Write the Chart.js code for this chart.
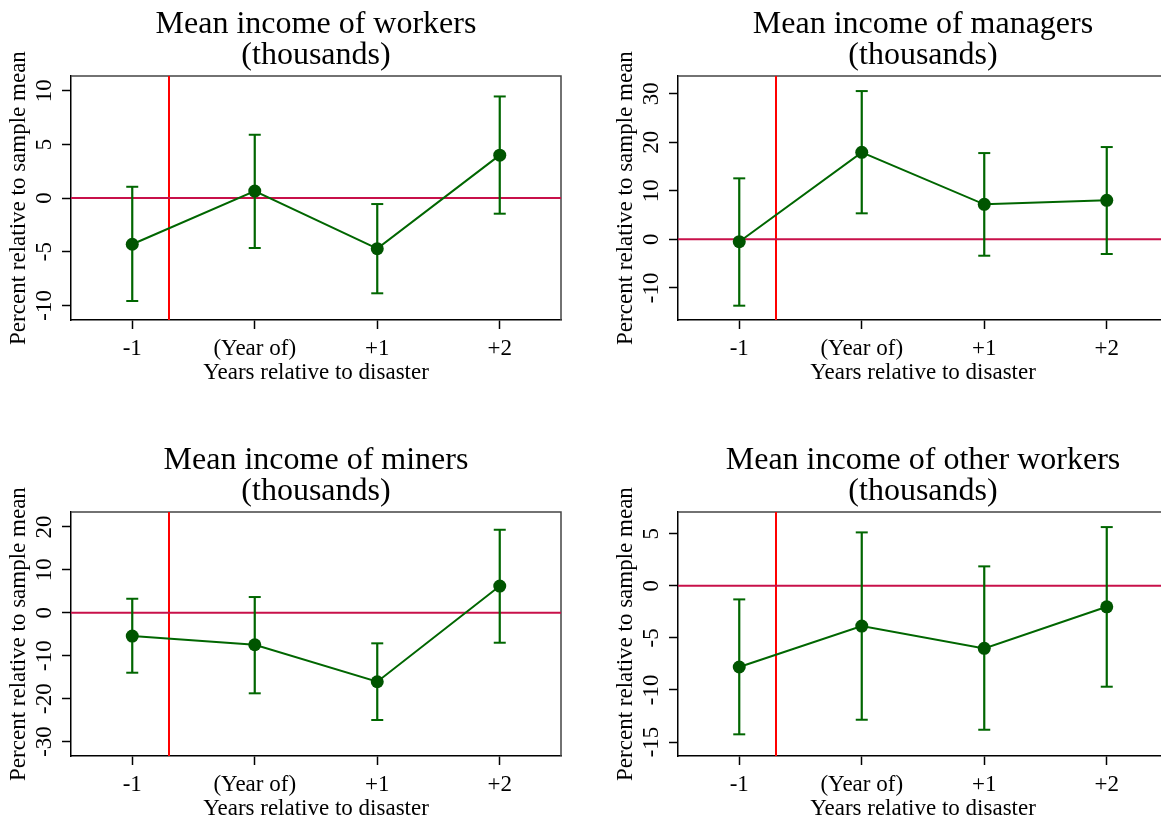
<!DOCTYPE html>
<html>
<head>
<meta charset="utf-8">
<script src="https://cdn.jsdelivr.net/npm/chart.js@4"></script>
<style>
  html, body { margin: 0; padding: 0; background: #fff; }
  #page { position: relative; width: 1161px; height: 822px; overflow: hidden; }
  #page canvas { position: absolute; }
</style>
</head>
<body>
<div id="page">
  <canvas id="c1" width="580" height="400" style="left:0;top:0"></canvas>
  <canvas id="c2" width="580" height="400" style="left:607px;top:0"></canvas>
  <canvas id="c3" width="580" height="400" style="left:0;top:436px"></canvas>
  <canvas id="c4" width="580" height="400" style="left:607px;top:436px"></canvas>
</div>
<script>
// categories on the x axis (positions 0..3), disaster marker between -1 and year of
const xLabels = ['-1', '(Year of)', '+1', '+2'];
const xPos = [0, 1, 2, 3];
const eventLine = 0.3;
const yTitle = 'Percent relative to sample mean';
const xTitle = 'Years relative to disaster';

// workers
const workersMean = [-4.31, 0.65, -4.72, 4.0];
const workersLow = [-9.6, -4.66, -8.88, -1.46];
const workersHigh = [1.05, 5.9, -0.56, 9.47];
const workersTicks = [-10, -5, 0, 5, 10];
const workersRange = [-11.37, 11.37];

// managers
const managersMean = [-0.49, 17.93, 7.21, 8.04];
const managersLow = [-13.68, 5.36, -3.38, -3.03];
const managersHigh = [12.57, 30.56, 17.78, 19.02];
const managersTicks = [-10, 0, 10, 20, 30];
const managersRange = [-16.63, 33.65];

// miners
const minersMean = [-5.43, -7.46, -16.08, 6.22];
const minersLow = [-13.98, -18.78, -25.0, -6.99];
const minersHigh = [3.26, 3.66, -7.13, 19.34];
const minersTicks = [-30, -20, -10, 0, 10, 20];
const minersRange = [-33.39, 23.46];

// other workers
const otherMean = [-7.8, -3.87, -6.01, -2.02];
const otherLow = [-14.26, -12.86, -13.82, -9.69];
const otherHigh = [-1.31, 5.12, 1.86, 5.63];
const otherTicks = [-15, -10, -5, 0, 5];
const otherRange = [-16.34, 7.07];

const FONT = 'Liberation Serif';
const GREEN = '#006600';
const DOT = '#005500';

// top and right edges of the plot region
const frame = {
  id: 'frame',
  beforeDatasetsDraw(chart) {
    const a = chart.chartArea, ctx = chart.ctx;
    ctx.save();
    ctx.strokeStyle = '#444';
    ctx.lineWidth = 1.5;
    ctx.beginPath();
    ctx.moveTo(a.left, a.top);
    ctx.lineTo(a.right, a.top);
    ctx.lineTo(a.right, a.bottom);
    ctx.stroke();
    ctx.restore();
  }
};

function makePanel(id, title, mean, low, high, yTicks, yRange) {
  const bars = [];
  xPos.forEach((x, i) => {
    bars.push({ x: x, y: low[i] }, { x: x, y: high[i] }, { x: x, y: null });
  });
  return new Chart(document.getElementById(id), {
    type: 'line',
    data: {
      datasets: [
        {
          data: xPos.map((x, i) => ({ x: x, y: mean[i] })),
          borderColor: GREEN, borderWidth: 2,
          pointRadius: 6.5, pointBackgroundColor: DOT, pointBorderWidth: 0,
          order: 1
        },
        {
          data: bars, spanGaps: false,
          borderColor: GREEN, borderWidth: 2.2,
          pointStyle: 'line', pointRadius: 6, pointBorderColor: GREEN, pointBorderWidth: 2,
          order: 2
        },
        {
          data: [{ x: -0.5, y: 0 }, { x: 3.5, y: 0 }],
          borderColor: '#c8104a', borderWidth: 2, pointRadius: 0,
          order: 3
        },
        {
          data: [{ x: eventLine, y: yRange[0] }, { x: eventLine, y: yRange[1] }],
          borderColor: '#ff0000', borderWidth: 2, pointRadius: 0,
          order: 4
        }
      ]
    },
    options: {
      responsive: false,
      devicePixelRatio: 1,
      animation: false,
      parsing: true,
      layout: { padding: { left: 0, right: 19, top: 0, bottom: 0 } },
      plugins: {
        legend: { display: false },
        tooltip: { enabled: false },
        title: {
          display: true, text: title, fullSize: false, color: '#000',
          font: { family: FONT, size: 32, weight: 'normal', lineHeight: 0.97 },
          padding: { top: 8.7, bottom: 5.3 }
        }
      },
      scales: {
        x: {
          type: 'linear', min: -0.5, max: 3.5,
          afterBuildTicks: (s) => { s.ticks = xPos.map(v => ({ value: v })); },
          afterFit: (s) => { s.height = 80; },
          ticks: {
            callback: (v) => xLabels[v], color: '#000', padding: 6,
            maxRotation: 0, autoSkip: false,
            font: { family: FONT, size: 23, lineHeight: 1.2 }
          },
          grid: { display: true, drawOnChartArea: false, drawTicks: true, tickLength: 9, tickColor: '#000', tickWidth: 1.5 },
          border: { display: true, color: '#000', width: 1.5 },
          title: {
            display: true, text: xTitle, color: '#000',
            font: { family: FONT, size: 23, lineHeight: 1 },
            padding: { top: 0, bottom: 15.5 }
          }
        },
        y: {
          type: 'linear', min: yRange[0], max: yRange[1],
          afterBuildTicks: (s) => { s.ticks = yTicks.map(v => ({ value: v })); },
          afterFit: (s) => { s.width = 71; },
          ticks: {
            callback: (v) => String(v), color: '#000', padding: 2,
            minRotation: 90, maxRotation: 90, crossAlign: 'center', autoSkip: false,
            font: { family: FONT, size: 23, lineHeight: 1.2 }
          },
          grid: { display: true, drawOnChartArea: false, drawTicks: true, tickLength: 9, tickColor: '#000', tickWidth: 1.5 },
          border: { display: true, color: '#000', width: 1.5 },
          title: {
            display: true, text: yTitle, color: '#000',
            font: { family: FONT, size: 23, lineHeight: 1 },
            padding: { top: 7.5, bottom: 0 }
          }
        }
      }
    },
    plugins: [frame]
  });
}

makePanel('c1', ['Mean income of workers', '(thousands)'], workersMean, workersLow, workersHigh, workersTicks, workersRange);
makePanel('c2', ['Mean income of managers', '(thousands)'], managersMean, managersLow, managersHigh, managersTicks, managersRange);
makePanel('c3', ['Mean income of miners', '(thousands)'], minersMean, minersLow, minersHigh, minersTicks, minersRange);
makePanel('c4', ['Mean income of other workers', '(thousands)'], otherMean, otherLow, otherHigh, otherTicks, otherRange);
</script>
</body>
</html>
